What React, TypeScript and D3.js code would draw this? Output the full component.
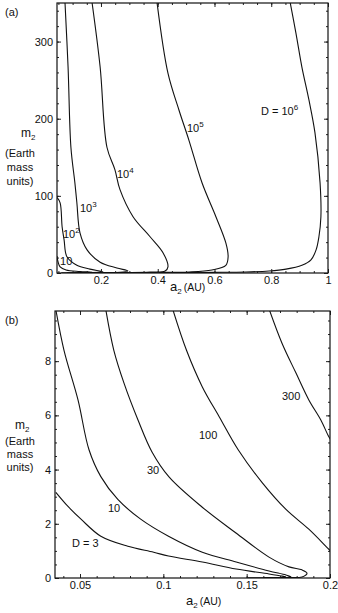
import { useEffect, useRef } from "react";
import * as d3 from "d3";

const W = 338;
const H = 613;
const FONT = "'Liberation Sans', Arial, Helvetica, sans-serif";

// ---- panel (a): a2 0.045..1 AU, m2 0..350 Earth masses
const aXTicks = [0.2, 0.4, 0.6, 0.8, 1];
const aXTickLabels = ["0.2", "0.4", "0.6", "0.8", "1"];
const aYTicks = [0, 100, 200, 300];
const aYTickLabels = ["0", "100", "200", "300"];

const aD10 = [[0.045, 22], [0.049, 14], [0.056, 8], [0.077, 4], [0.126, 2], [0.17, 0.9], [0.12, 0.4], [0.06, 0.3]];
const aD1e2 = [[0.045, 98], [0.056, 91], [0.063, 60], [0.07, 43], [0.08, 21], [0.115, 10], [0.161, 5], [0.207, 1.3], [0.15, 0.6], [0.08, 0.4]];
const aD1e3 = [[0.073, 352], [0.084, 267], [0.094, 163], [0.108, 117], [0.115, 91], [0.126, 52], [0.151, 30], [0.197, 14], [0.256, 6.5], [0.295, 2.6], [0.267, 0.8], [0.2, 0.5], [0.12, 0.4]];
const aD1e4 = [[0.168, 352], [0.197, 267], [0.221, 163], [0.249, 134], [0.267, 108], [0.313, 73], [0.373, 47], [0.419, 26], [0.436, 8], [0.426, 2.6], [0.373, 1.3], [0.3, 0.7], [0.2, 0.5]];
const aD1e5 = [[0.397, 352], [0.436, 259], [0.475, 211], [0.51, 172], [0.556, 117], [0.605, 73], [0.64, 39], [0.648, 21], [0.64, 10], [0.591, 4], [0.51, 1.3], [0.4, 0.7], [0.3, 0.5]];
const aD1e6 = [[0.866, 352], [0.887, 311], [0.908, 267], [0.933, 224], [0.954, 182], [0.972, 117], [0.975, 73], [0.968, 47], [0.958, 30], [0.94, 17], [0.908, 10], [0.852, 5], [0.792, 2.6], [0.711, 1.3], [0.6, 0.8], [0.45, 0.5]];
const aCurves = [aD10, aD1e2, aD1e3, aD1e4, aD1e5, aD1e6];

const aLabelText = ["D = 10", "10", "10", "10", "10", "10"];
const aLabelSup = ["6", "5", "4", "3", "2", ""];
const aLabelAt = [[0.764, 205], [0.503, 183], [0.256, 123], [0.126, 79], [0.066, 45], [0.056, 10]];

// ---- panel (b): a2 0.035..0.2 AU, m2 0..9.85 Earth masses
const bXTicks = [0.05, 0.1, 0.15, 0.2];
const bXTickLabels = ["0.05", "0.1", "0.15", "0.2"];
const bYTicks = [0, 2, 4, 6, 8];
const bYTickLabels = ["0", "2", "4", "6", "8"];

const bD3 = [[0.0355, 3.16], [0.0428, 2.64], [0.0506, 2.17], [0.0625, 1.54], [0.0787, 1.17], [0.0942, 0.95], [0.1031, 0.81], [0.1234, 0.59], [0.1437, 0.33], [0.1634, 0.15], [0.1712, 0.07], [0.1735, 0.04], [0.17, 0.02], [0.15, 0.01]];
const bD10 = [[0.0352, 10], [0.0404, 8.4], [0.0488, 6.57], [0.0554, 4.73], [0.0625, 3.74], [0.0727, 2.9], [0.0864, 2.17], [0.1031, 1.54], [0.1234, 0.95], [0.1437, 0.59], [0.1634, 0.26], [0.1736, 0.11], [0.1765, 0.05], [0.174, 0.02], [0.16, 0.01]];
const bD30 = [[0.0652, 10], [0.0703, 8.4], [0.0764, 7.19], [0.0848, 5.83], [0.0932, 4.65], [0.1034, 3.73], [0.1232, 2.62], [0.1436, 1.66], [0.1634, 0.77], [0.1754, 0.41], [0.1832, 0.3], [0.1862, 0.18], [0.1832, 0.04], [0.1736, 0.02], [0.16, 0.01]];
const bD100 = [[0.1052, 10], [0.1139, 8.4], [0.1234, 7.05], [0.1336, 5.94], [0.1449, 4.73], [0.1593, 3.52], [0.1736, 2.53], [0.1873, 1.8], [0.1993, 1.06], [0.202, 0.9]];
const bD300 = [[0.163, 10], [0.1712, 8.66], [0.1796, 7.56], [0.1873, 6.57], [0.1945, 5.83], [0.1993, 5.21], [0.202, 4.95]];
const bCurves = [bD3, bD10, bD30, bD100, bD300];

const bLabelText = ["D = 3", "10", "30", "100", "300"];
const bLabelAt = [[0.0452, 1.14], [0.0668, 2.44], [0.0902, 3.84], [0.1214, 5.13], [0.1712, 6.57]];

type Panel = {
  id: string;
  tag: string;
  left: number; right: number; top: number; bottom: number;
  xDomain: number[]; yDomain: number[];
  xTicks: number[]; xTickLabels: string[]; xMinor: number[];
  yTicks: number[]; yTickLabels: string[]; yMinor: number[];
  curves: number[][][];
  labels: { text: string; sup: string; at: number[] }[];
  yLabelX: number; yLabelY: number[];
  xLabelX: number; xLabelY: number;
};

function drawPanel(svg: any, p: Panel) {
  const x = d3.scaleLinear().domain(p.xDomain).range([p.left, p.right]);
  const y = d3.scaleLinear().domain(p.yDomain).range([p.bottom, p.top]);
  const g = svg.append("g").attr("font-family", FONT).attr("fill", "#111");

  svg.append("defs").append("clipPath").attr("id", "clip-" + p.id)
    .append("rect")
    .attr("x", p.left).attr("y", p.top)
    .attr("width", p.right - p.left).attr("height", p.bottom - p.top);

  const line = d3.line<number[]>()
    .x((d) => x(d[0]))
    .y((d) => y(d[1]))
    .curve(d3.curveCatmullRom.alpha(0.5));

  g.append("g")
    .attr("clip-path", `url(#clip-${p.id})`)
    .selectAll("path")
    .data(p.curves)
    .join("path")
    .attr("fill", "none")
    .attr("stroke", "#111")
    .attr("stroke-width", 1.1)
    .attr("d", line);

  // ticks on all four sides, pointing inwards
  const style = (sel: any) => {
    sel.select(".domain").remove();
    sel.selectAll("line").attr("stroke", "#222");
    sel.selectAll("text").attr("font-size", 11).attr("font-family", FONT).attr("fill", "#111");
  };
  const fmt = (labels: string[], ticks: number[]) => (d: any) => labels[ticks.indexOf(d)] ?? "";

  g.append("g").attr("transform", `translate(0,${p.bottom})`)
    .call(d3.axisBottom(x).tickValues(p.xTicks).tickFormat(fmt(p.xTickLabels, p.xTicks)).tickSize(-4).tickPadding(3))
    .call(style);
  g.append("g").attr("transform", `translate(0,${p.bottom})`)
    .call(d3.axisBottom(x).tickValues(p.xMinor).tickFormat(() => "").tickSize(-2))
    .call(style);
  g.append("g").attr("transform", `translate(0,${p.top})`)
    .call(d3.axisTop(x).tickValues(p.xTicks).tickFormat(() => "").tickSize(-4))
    .call(style);
  g.append("g").attr("transform", `translate(0,${p.top})`)
    .call(d3.axisTop(x).tickValues(p.xMinor).tickFormat(() => "").tickSize(-2))
    .call(style);

  g.append("g").attr("transform", `translate(${p.left},0)`)
    .call(d3.axisLeft(y).tickValues(p.yTicks).tickFormat(fmt(p.yTickLabels, p.yTicks)).tickSize(-4).tickPadding(4))
    .call(style);
  g.append("g").attr("transform", `translate(${p.left},0)`)
    .call(d3.axisLeft(y).tickValues(p.yMinor).tickFormat(() => "").tickSize(-2))
    .call(style);
  g.append("g").attr("transform", `translate(${p.right},0)`)
    .call(d3.axisRight(y).tickValues(p.yTicks).tickFormat(() => "").tickSize(-4))
    .call(style);
  g.append("g").attr("transform", `translate(${p.right},0)`)
    .call(d3.axisRight(y).tickValues(p.yMinor).tickFormat(() => "").tickSize(-2))
    .call(style);

  // frame
  g.append("rect")
    .attr("x", p.left).attr("y", p.top)
    .attr("width", p.right - p.left).attr("height", p.bottom - p.top)
    .attr("fill", "none").attr("stroke", "#111").attr("stroke-width", 1.2);

  // contour labels
  p.labels.forEach((l) => {
    const t = g.append("text")
      .attr("x", x(l.at[0])).attr("y", y(l.at[1]))
      .attr("font-size", 11).attr("fill", "#111");
    t.append("tspan").text(l.text);
    if (l.sup) t.append("tspan").attr("dy", -5).attr("font-size", 8).text(l.sup);
  });

  // panel tag
  g.append("text").attr("x", 5).attr("y", p.top + 13).attr("font-size", 11).text(p.tag);

  // y label
  const m = g.append("text").attr("x", p.yLabelX).attr("y", p.yLabelY[0]).attr("font-size", 12);
  m.append("tspan").text("m");
  m.append("tspan").attr("dy", 3).attr("font-size", 8).text("2");
  ["(Earth", "mass", "units)"].forEach((s, i) => {
    g.append("text").attr("x", 20).attr("y", p.yLabelY[i + 1])
      .attr("text-anchor", "middle").attr("font-size", 11).text(s);
  });

  // x label
  const a = g.append("text").attr("x", p.xLabelX).attr("y", p.xLabelY).attr("font-size", 13);
  a.append("tspan").text("a");
  a.append("tspan").attr("dy", 3).attr("font-size", 8).text("2");
  a.append("tspan").attr("dy", -3).attr("dx", 2).attr("font-size", 10.5).text("(AU)");
}

export default function App() {
  const svgRef = useRef<SVGSVGElement | null>(null);

  useEffect(() => {
    const svgEl = svgRef.current;
    if (!svgEl) return;
    const svg = d3.select(svgEl);
    svg.selectAll("*").remove();

    drawPanel(svg, {
      id: "a", tag: "(a)",
      left: 57, right: 328, top: 3, bottom: 273,
      xDomain: [0.045, 1], yDomain: [0, 350],
      xTicks: aXTicks, xTickLabels: aXTickLabels,
      xMinor: d3.range(1, 21).map((i) => i * 0.05),
      yTicks: aYTicks, yTickLabels: aYTickLabels,
      yMinor: d3.range(0, 18).map((i) => i * 20),
      curves: aCurves,
      labels: aLabelText.map((t, i) => ({ text: t, sup: aLabelSup[i], at: aLabelAt[i] })),
      yLabelX: 21, yLabelY: [137, 157, 171, 185],
      xLabelX: 170, xLabelY: 291,
    });

    drawPanel(svg, {
      id: "b", tag: "(b)",
      left: 55, right: 330, top: 311, bottom: 578,
      xDomain: [0.035, 0.2], yDomain: [0, 9.85],
      xTicks: bXTicks, xTickLabels: bXTickLabels,
      xMinor: d3.range(4, 21).map((i) => i * 0.01),
      yTicks: bYTicks, yTickLabels: bYTickLabels,
      yMinor: d3.range(0, 20).map((i) => i * 0.5),
      curves: bCurves,
      labels: bLabelText.map((t, i) => ({ text: t, sup: "", at: bLabelAt[i] })),
      yLabelX: 15, yLabelY: [429, 445, 458, 471],
      xLabelX: 186, xLabelY: 605,
    });
  }, []);

  return (
    <div style={{ position: "absolute", left: 0, top: 0 }}>
      <svg ref={svgRef} width={W} height={H} style={{ display: "block", background: "#fff" }} />
    </div>
  );
}
